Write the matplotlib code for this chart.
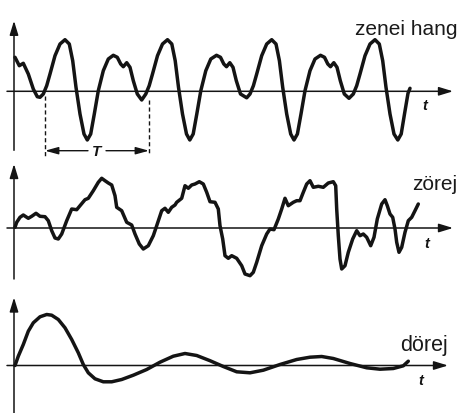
import matplotlib
matplotlib.use("Agg")
import matplotlib.pyplot as plt

# ---------------- data ----------------
# panel 1: "zenei hang" (musical tone) - time t, amplitude a
tone_t = [1, 5.3, 9.3, 14.3, 19.3, 23.3, 26, 29.3, 32.7, 36, 41, 46, 51, 55.3, 58.7, 62, 66, 70,
          73.3, 76.7, 80.3, 84.3, 89.3, 94.3, 99.3, 103.3, 106.7, 109.3, 112.7, 116, 119.3, 123.3,
          127.7, 131.8, 135.2, 138.5, 143.5, 148.5, 153.5, 157.8, 161.2, 164.5, 168.5, 172.5, 175.8,
          179.2, 182.8, 186.8, 191.8, 196.8, 202.5, 206.5, 209.8, 212.5, 215.8, 219, 222.3, 226.5,
          232.7, 236, 239.4, 242.7, 247.7, 252.7, 257.7, 262, 265.4, 268.7, 272.7, 276.7, 280, 283.4,
          287, 291, 296, 301, 306.5, 310.5, 313.8, 316.5, 319.8, 323, 326.3, 330.3, 335, 339.3, 342.7,
          346, 351, 356, 361, 365.3, 368.7, 372, 376, 380, 383.8, 387.2, 390.5, 394, 396]
tone_a = [34, 25.6, 28, 17.3, 2.3, -5.4, -6, -2.7, 5.6, 17.3, 35.6, 47.3, 51.6, 47.3, 30.6, 4, -22.7, -42.7,
          -48.7, -42.7, -22.7, 0.6, 20.6, 32.3, 36, 34, 27.3, 24.6, 28.6, 24, 10.6, -2.7,
          -8.7, -2.7, 5.6, 17.3, 35.6, 47.3, 51.6, 47.3, 30.6, 4, -22.7, -42.7, -48.7,
          -42.7, -22.7, 0.6, 20.6, 32.3, 36, 34, 27.3, 24.6, 28.6, 24, 10.6, -2.7,
          -6.5, -2.7, 5.6, 17.3, 35.6, 47.3, 51.6, 47.3, 30.6, 4, -22.7, -42.7, -48.7, -42.7,
          -22.7, 0.6, 20.6, 32.3, 36, 34, 27.3, 24.6, 28.6, 24, 10.6, -2.7, -7, -2.7, 5.6,
          17.3, 35.6, 47.3, 51.6, 47.3, 30.6, 4, -22.7, -42.7, -48.7, -42.7, -22.7, -2, 3]
period_marks = [31, 135]          # T dashed markers

# panel 2: "zörej" (noise)
noise_t = [1, 2.7, 6, 9.3, 14.3, 17.7, 22, 26, 31, 34.3, 37.7, 41, 44.3, 47.7, 52.7, 57.7, 62.7, 66,
           71, 74.3, 79.3, 84.3, 87.7, 91, 94.3, 97.7, 101, 102.7, 107.7, 112.7, 117.7, 121, 125.3,
           129.3, 134.3, 139.3, 142.7, 147.7, 151, 154.3, 157.7, 161, 162.7, 167.7, 171, 174.3, 177.7,
           181, 185.3, 189.3, 192.7, 196, 201, 204.3, 206, 208.7, 211, 214.3, 217.7, 222.7, 227.7,
           231, 236, 239.3, 242.7, 247.7, 252.7, 256, 260, 264.3, 267.7, 271, 274.3, 279.3, 282.7,
           286, 289.3, 292.7, 296, 299.3, 304.3, 309.3, 314.3, 319.3, 321.7, 322.7, 324.3, 326,
           327.7, 331, 334.3, 338.7, 342.7, 346, 349.3, 352.7, 356.7, 360, 363.3, 367.7, 371, 373.3,
           376, 378.7, 381, 382.7, 385, 387.7, 391, 394.3, 397.7, 401, 404.3]
noise_a = [0.7, 5.7, 10.7, 13, 9.7, 11.7, 14.7, 11.7, 11.3, 7.3, -2.7, -10, -11, -6, 7.3, 19, 18.3, 22.3,
           28.3, 29.7, 37.3, 45.7, 49.7, 47.3, 45, 43, 32.3, 20.7, 17.3, 5.7, 3, -6, -16,
           -21, -17.7, -7.7, 2.3, 17.3, 19.7, 15.7, 20.7, 23, 25.7, 29.7, 42.3, 39.7, 43,
           44, 46.3, 44, 35.7, 26.3, 25.7, 19, 2.3, -11, -27.7, -30.3, -27.7, -30.3, -37.7,
           -46, -47.7, -44.3, -34.3, -17.7, -6, -1, -1.7, 9, 19, 29.7, 22.3, 25.7, 27.3,
           27.3, 35.7, 44, 47.3, 40.7, 41.7, 40.7, 45, 46.3, 42.3, 19, -7.7, -31,
           -41, -37.7, -24.3, -11, -2.7, -7.7, -6, -9.3, -17.7, -9.3, 9, 24, 28.3, 22.3,
           14, 10.7, -1, -14.3, -24.3, -19.3, -4.3, 7.3, 10.7, 17.3, 24]

# panel 3: "dörej" (bang, damped oscillation)
bang_t = [1, 4.3, 9.3, 14.3, 19.3, 26, 32.7, 37.7, 44.3, 51, 57.7, 64.3, 69.3, 74.3, 81, 89.3, 97.7,
          107.7, 119.3, 132.7, 146, 159.3, 171, 182.7, 196, 209.3, 222.7, 236, 249.3, 266, 282.7,
          296, 307.7, 319.3, 336, 352.7, 366, 379.3, 389.3, 394.3]
bang_a = [0, 9.3, 21, 34.3, 42.7, 48.7, 51, 50.3, 46, 37.7, 26, 12.7, 1, -7.3, -13.3, -16.3, -16.3,
          -14, -9.7, -4, 3.3, 9.3, 12, 10, 4.8, -1, -6.3, -7.3, -4.7, 1, 6,
          8.3, 9, 7, 2, -2.3, -3.7, -3, -0.3, 4.3]

labels = ["zenei hang", "zörej", "dörej"]
axis_label = "t"
period_label = "T"

# ---------------- drawing ----------------
W, H = 460, 414
fig = plt.figure(figsize=(W / 100, H / 100), dpi=100)
fig.patch.set_facecolor("white")

ink = "#141414"
curve_lw = 2.5
axis_lw = 1.1

origins = [92.3, 229, 366.5]        # pixel row of each time axis
x_extent = [(-7, 439, -59, 70.5), (-7, 439, -51, 64), (-7, 434, -48, 68)]
curves = [(tone_t, tone_a), (noise_t, noise_a), (bang_t, bang_a)]
label_pos = [(355, 35, 15), (412, 190, 15), (400, 351, 15.5)]
tlab_pos = [(425, 106), (427, 244), (421, 381)]

arrow_style = "-|>,head_length=0.85,head_width=0.26"

for i in range(3):
    ax = fig.add_axes([0, 0, 1, 1])
    ax.set_xlim(-14, W - 14)
    y0 = origins[i]
    ax.set_ylim(y0 - H, y0)
    ax.axis("off")
    ax.patch.set_alpha(0)

    x_lo, x_hi, y_lo, y_hi = x_extent[i]
    ax.annotate("", xy=(x_hi, 0), xytext=(x_lo, 0),
                arrowprops=dict(arrowstyle=arrow_style, lw=axis_lw, color=ink,
                                shrinkA=0, shrinkB=0))
    ax.annotate("", xy=(0, y_hi), xytext=(0, y_lo),
                arrowprops=dict(arrowstyle=arrow_style, lw=axis_lw, color=ink,
                                shrinkA=0, shrinkB=0))

    t, a = curves[i]
    ax.plot(t, a, color=ink, lw=curve_lw, solid_joinstyle="round",
            solid_capstyle="round")

    lx, ly, fs = label_pos[i]
    fig.text(lx / W, 1 - ly / H, labels[i], fontsize=fs, family="Liberation Sans",
             color="#1a1a1a", ha="left", va="baseline")
    tx, ty = tlab_pos[i]
    fig.text(tx / W, 1 - ty / H, axis_label, fontsize=10.5, family="Liberation Sans",
             style="italic", weight="bold", color=ink, ha="center", va="center")

    if i == 0:
        ax.plot([period_marks[0]] * 2, [-4.5, -67], color=ink, lw=1.0, ls=(0, (3, 2)))
        ax.plot([period_marks[1]] * 2, [-9, -63], color=ink, lw=1.0, ls=(0, (3, 2)))
        ty_a = -59.4
        mid = (period_marks[0] + period_marks[1]) / 2
        ax.annotate("", xy=(period_marks[0], ty_a), xytext=(mid - 9, ty_a),
                    arrowprops=dict(arrowstyle="-|>,head_length=0.8,head_width=0.22",
                                    lw=1.0, color=ink, shrinkA=0, shrinkB=0))
        ax.annotate("", xy=(period_marks[1], ty_a), xytext=(mid + 9, ty_a),
                    arrowprops=dict(arrowstyle="-|>,head_length=0.8,head_width=0.22",
                                    lw=1.0, color=ink, shrinkA=0, shrinkB=0))
        ax.text(mid, ty_a, period_label, fontsize=11, family="Liberation Sans",
                style="italic", weight="bold", color=ink, ha="center", va="center")

fig.savefig("out.png", dpi=100, facecolor="white")
